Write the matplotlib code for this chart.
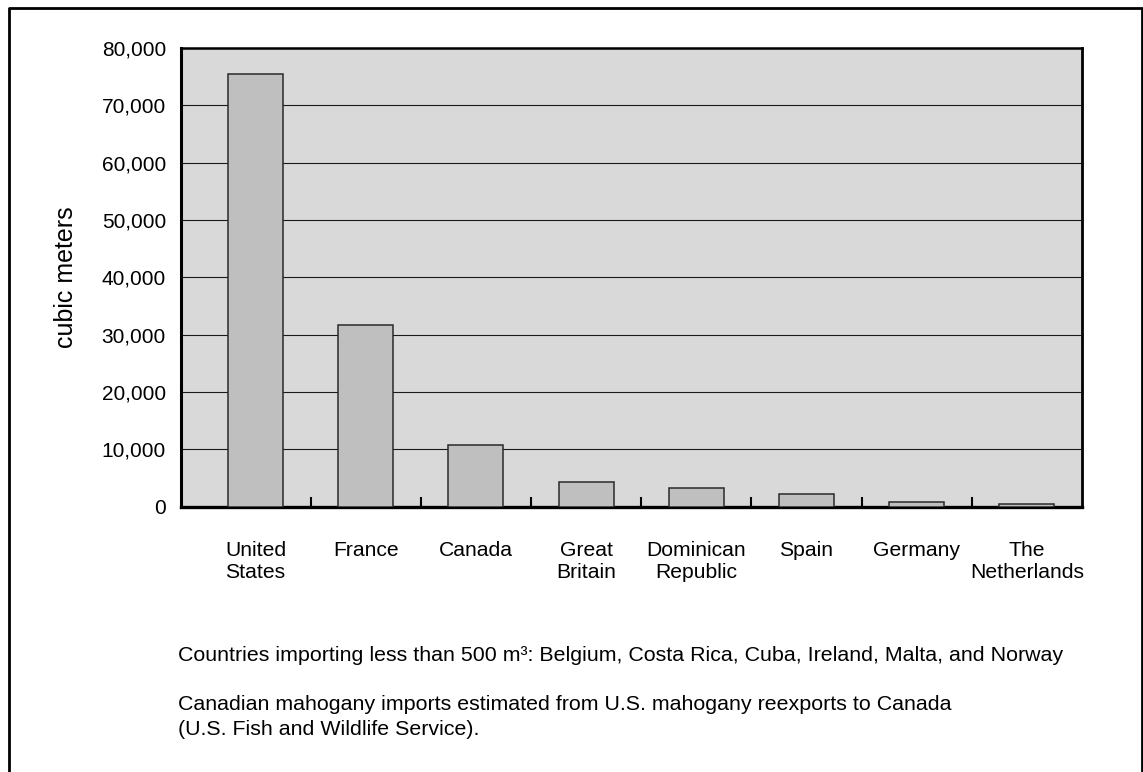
import matplotlib
matplotlib.use("Agg")
import matplotlib.pyplot as plt
from matplotlib.ticker import FuncFormatter
from matplotlib.lines import Line2D

# data (cubic meters)
countries = ["United\nStates", "France", "Canada", "Great\nBritain",
             "Dominican\nRepublic", "Spain", "Germany", "The\nNetherlands"]
volumes = [75500, 31600, 10750, 4250, 3250, 2200, 750, 520]
y_ticks = [0, 10000, 20000, 30000, 40000, 50000, 60000, 70000, 80000]

notes = [
    "Countries importing less than 500 m\u00b3: Belgium, Costa Rica, Cuba, Ireland, Malta, and Norway",
    "Canadian mahogany imports estimated from U.S. mahogany reexports to Canada",
    "(U.S. Fish and Wildlife Service).",
]
note_baselines = [661, 710, 735]

plt.rcParams['font.family'] = ['Liberation Sans', 'DejaVu Sans']

W, H = 1143, 772
fig = plt.figure(figsize=(W / 100, H / 100), dpi=100)
ax = fig.add_axes([181 / W, 1 - 506.6 / H, (1082 - 181) / W, (506.6 - 48) / H])

x = list(range(len(countries)))
ax.set_facecolor("#d9d9d9")
ax.bar(x, volumes, width=0.5, color="#bfbfbf", edgecolor="#2a2a2a",
       linewidth=1.1, zorder=3)

ax.set_xlim(-0.676, 7.5)
ax.set_ylim(0, 80000)
ax.set_yticks(y_ticks)
ax.yaxis.set_major_formatter(FuncFormatter(lambda v, p: f"{int(v):,}"))
ax.grid(axis="y", color="#1a1a1a", linewidth=0.8, zorder=1)
ax.set_axisbelow(True)

ax.set_xticks(x)
ax.set_xticklabels(countries, fontsize=15.2, linespacing=1.2)
ax.set_xticks([i + 0.5 for i in x[:-1]], minor=True)
ax.tick_params(axis="x", which="major", length=0, pad=24.5)
ax.tick_params(axis="x", which="minor", direction="in", length=7.2,
               width=1.5, color="#000000")
ax.tick_params(axis="y", length=0, pad=10.8, labelsize=15)

for side, lw in [("left", 2.2), ("bottom", 2.4), ("top", 1.8), ("right", 2.0)]:
    ax.spines[side].set_linewidth(lw)
    ax.spines[side].set_color("#000000")

fig.text(66 / W, 1 - 277 / H, "cubic meters", rotation=90, fontsize=18,
         ha="center", va="center")

for note, base in zip(notes, note_baselines):
    fig.text(178 / W, 1 - base / H, note, fontsize=15.4, ha="left", va="baseline")

# page frame (left, top, right)
frame_x = [8.5 / W, 8.5 / W, 1141.5 / W, 1141.5 / W]
frame_y = [0.0, 1 - 8 / H, 1 - 8 / H, 0.0]
fig.add_artist(Line2D(frame_x, frame_y, transform=fig.transFigure,
                      color="#000000", linewidth=2.0))

fig.savefig("out.png", dpi=100)
